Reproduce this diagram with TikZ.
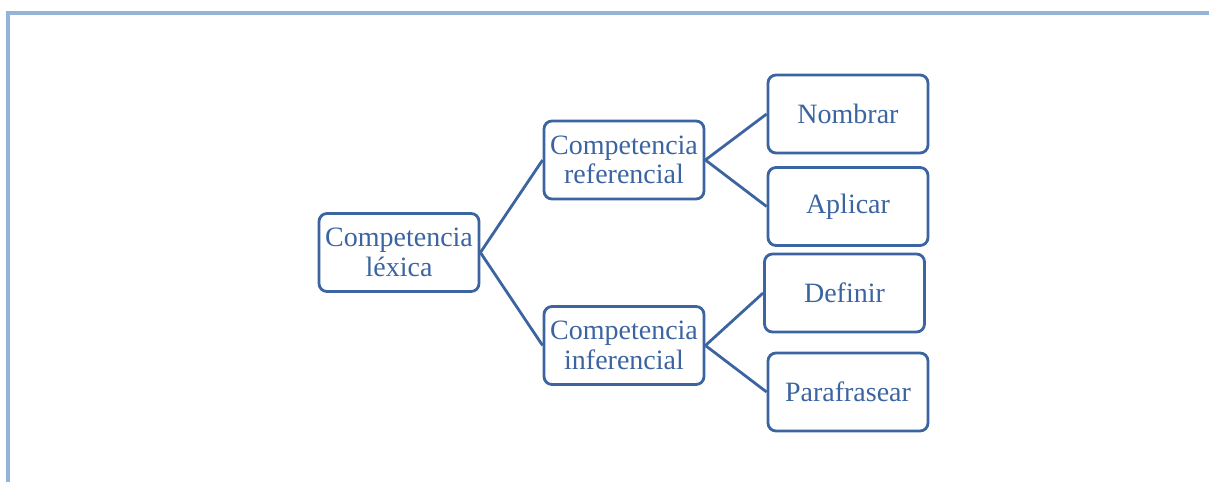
\documentclass[tikz,border=0pt]{standalone}
\usepackage{fontspec}
\setmainfont{Liberation Serif}
\definecolor{boxblue}{HTML}{3B64A0}
\definecolor{frameblue}{HTML}{95B3D7}
\begin{document}
\begin{tikzpicture}[x=1pt,y=-1pt,
  box/.style={draw=boxblue, line width=2.8pt, rounded corners=8pt, fill=white,
    minimum width=160pt, minimum height=78pt, inner sep=2pt,
    align=center, text=boxblue, font=\fontsize{28}{29.5}\selectfont},
  link/.style={draw=boxblue, line width=2.8pt}]
\useasboundingbox (0,0) rectangle (1209,482);
% page frame
\draw[frameblue, line width=4pt] (7.5,482) -- (7.5,12.5) -- (1209,12.5);
% boxes
\node[box] (lex) at (399,252.5) {Competencia\\léxica};
\node[box] (ref) at (624,160) {Competencia\\referencial};
\node[box] (inf) at (624,345.5) {Competencia\\inferencial};
\node[box] (nom) at (848,114) {Nombrar};
\node[box] (apl) at (848,206.5) {Aplicar};
\node[box] (def) at (844.5,293) {Definir};
\node[box] (par) at (848,392) {Parafrasear};
% connectors
\draw[link] (lex.east) -- (ref.west);
\draw[link] (lex.east) -- (inf.west);
\draw[link] (ref.east) -- (nom.west);
\draw[link] (ref.east) -- (apl.west);
\draw[link] (inf.east) -- (def.west);
\draw[link] (inf.east) -- (par.west);
\end{tikzpicture}
\end{document}
